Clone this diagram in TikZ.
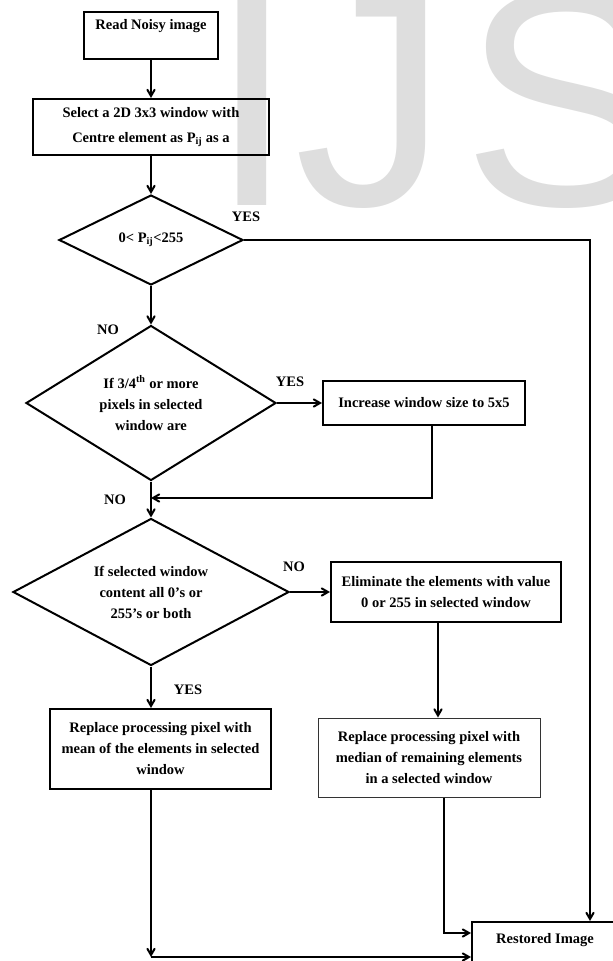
\documentclass[tikz,border=0pt]{standalone}
\usepackage{fontspec}
\setmainfont{Liberation Serif}
\newfontfamily\marksans{Liberation Sans}
\usetikzlibrary{shapes.geometric, arrows}
\definecolor{markgray}{RGB}{222,222,222}
\tikzstyle{process} = [rectangle, text centered, align=center, draw=black, line width=2pt]
\tikzstyle{decision} = [diamond, text centered, align=center, inner sep=0pt, draw=black, line width=2pt]
\tikzstyle{arrow} = [line width=2pt,->,>=angle 60]
\tikzstyle{answer} = [inner sep=0pt]
\tikzstyle{watermark} = [inner sep=0pt, anchor=base west, text=markgray, font=\marksans\fontsize{308}{308}\selectfont]

\begin{document}
\begin{tikzpicture}[font=\fontsize{14.5}{21}\selectfont\bfseries]
        \useasboundingbox (-151pt,35.5pt) rectangle (462pt,-925.5pt);
        % Watermark
        \node (mark) [watermark] at (58pt,-169.5pt) {IJ\kern14pt S};

        % Nodes
        \node (read) [process, minimum width=134pt, inner ysep=0pt, text height=18pt, text depth=29pt] {Read Noisy image};
        \node (select) [process, minimum width=235pt, minimum height=56pt, node distance=91.5pt, below of=read] {Select a 2D 3x3 window with\\[4pt] Centre element as P\textsubscript{ij} as a};
        \node (d1) [decision, minimum width=184pt, minimum height=90pt, aspect=2.04, node distance=113pt, below of=select] {0< P\textsubscript{ij}<255};
        \node (d2) [decision, minimum width=250pt, minimum height=155pt, aspect=1.61, node distance=163pt, below of=d1] {If 3/4\textsuperscript{th} or more\\ pixels in selected\\ window are};
        \node (inc) [process, minimum width=202pt, minimum height=44pt, node distance=273pt, right of=d2] {Increase window size to 5x5};
        \node (d3) [decision, minimum width=276pt, minimum height=147pt, aspect=1.88, node distance=189pt, below of=d2] {If selected window\\ content all 0's or\\ 255's or both};
        \node (elim) [process, minimum width=230pt, minimum height=60pt, node distance=295pt, right of=d3] {Eliminate the elements with value\\ 0 or 255 in selected window};
        \node (mean) [process, minimum width=221pt, minimum height=80pt, node distance=157pt, below of=d3, xshift=9.5pt] {Replace processing pixel with\\ mean of the elements in selected\\ window};
        \node (med) [process, line width=1pt, draw=black!80, minimum width=222pt, minimum height=79pt, node distance=165.5pt, below of=elim, xshift=-17pt] {Replace processing pixel with\\ median of remaining elements\\ in a selected window};
        \node (rest) [process, minimum width=146pt, inner ysep=0pt, text height=21pt, text depth=32pt, node distance=191pt, below of=med, xshift=116pt] {Restored Image};
        \coordinate (join) at ([yshift=-95pt]d2.center);
        \coordinate (bend) at ([xshift=-9.5pt, yshift=-208pt]mean.center);

        % Answers
        \node (yes1) [answer] at ([shift={(2pt,23pt)}]d1.east) {YES};
        \node (no1) [answer] at ([shift={(-43pt,-5pt)}]d2.north) {NO};
        \node (yes2) [answer] at ([shift={(13pt,21pt)}]d2.east) {YES};
        \node (no2) [answer] at ([shift={(-36pt,-18pt)}]d2.south) {NO};
        \node (no3) [answer] at ([shift={(4pt,25pt)}]d3.east) {NO};
        \node (yes3) [answer] at ([shift={(37pt,-23pt)}]d3.south) {YES};

        % Arrows
        \draw [arrow] (read) -- (select);
        \draw [arrow] (select) -- (d1);
        \draw [arrow] (d1) -- (d2);
        \draw [arrow] (d2) -- (d3);
        \draw [arrow] (d2) -- (inc);
        \draw [arrow] ([xshift=8pt]inc.south) |- (join);
        \draw [arrow] (d1.east) -| ([xshift=45pt]rest.north);
        \draw [arrow] (d3) -- (elim);
        \draw [arrow] (d3.south) -- (d3.south |- mean.north);
        \draw [arrow] ([xshift=-8pt]elim.south) -- ([xshift=-8pt]elim.south |- med.north);
        \draw [arrow] ([xshift=15pt]med.south) |- ([yshift=15.5pt]rest.west);
        \draw [arrow] ([xshift=-9.5pt]mean.south) -- (bend);
        \draw [arrow] (bend) -- (bend -| rest.west);
    \end{tikzpicture}
\end{document}
